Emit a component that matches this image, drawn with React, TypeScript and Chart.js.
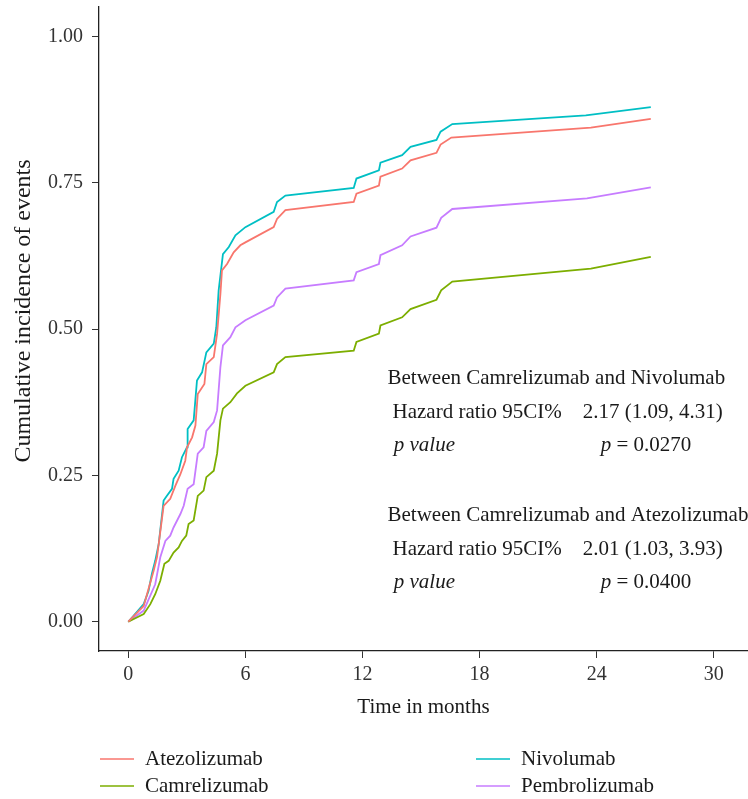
import React, { useEffect, useRef } from 'react';
import { Chart, registerables } from 'chart.js';

Chart.register(...registerables);

// ---- data ----
const seriesNames = ['Atezolizumab', 'Camrelizumab', 'Nivolumab', 'Pembrolizumab'];
const seriesColors = ['#F8766D', '#7CAE00', '#00BFC4', '#C77CFF'];

const atezolizumabTime = [0, 0.79, 1.3, 1.47, 1.81, 2.15, 2.41, 2.67, 2.92, 3.01, 3.27, 3.44, 3.56, 3.9, 4.0, 4.38, 4.55, 4.72, 4.8, 5.06, 5.4, 5.74, 6.0, 7.45, 7.62, 8.05, 11.55, 11.69, 12.84, 12.92, 14.03, 14.46, 15.79, 16.0, 16.55, 23.7, 26.77];
const atezolizumabValue = [0, 0.027, 0.087, 0.11, 0.198, 0.21, 0.232, 0.252, 0.275, 0.298, 0.315, 0.335, 0.389, 0.406, 0.44, 0.452, 0.492, 0.56, 0.6, 0.611, 0.631, 0.643, 0.648, 0.674, 0.688, 0.703, 0.717, 0.731, 0.745, 0.76, 0.774, 0.788, 0.801, 0.815, 0.827, 0.844, 0.859];

const camrelizumabTime = [0, 0.79, 1.13, 1.38, 1.64, 1.85, 2.07, 2.32, 2.58, 2.75, 2.97, 3.09, 3.35, 3.56, 3.86, 4.0, 4.38, 4.55, 4.72, 4.85, 5.23, 5.57, 6.0, 7.45, 7.62, 8.05, 11.55, 11.69, 12.84, 12.92, 14.03, 14.46, 15.79, 16.03, 16.6, 23.7, 26.77];
const camrelizumabValue = [0, 0.013, 0.03, 0.047, 0.07, 0.099, 0.104, 0.118, 0.127, 0.138, 0.147, 0.167, 0.173, 0.215, 0.224, 0.247, 0.258, 0.287, 0.344, 0.364, 0.375, 0.39, 0.403, 0.426, 0.44, 0.452, 0.463, 0.478, 0.492, 0.506, 0.52, 0.534, 0.55, 0.566, 0.581, 0.603, 0.623];

const nivolumabTime = [0, 0.79, 1.04, 1.21, 1.38, 1.56, 1.81, 1.98, 2.24, 2.32, 2.58, 2.75, 3.01, 3.04, 3.35, 3.52, 3.78, 4.0, 4.38, 4.51, 4.63, 4.85, 5.15, 5.49, 6.0, 7.45, 7.62, 8.05, 11.55, 11.69, 12.84, 12.92, 14.03, 14.46, 15.79, 16.0, 16.6, 23.44, 26.77];
const nivolumabValue = [0, 0.03, 0.053, 0.082, 0.104, 0.133, 0.207, 0.215, 0.227, 0.244, 0.258, 0.281, 0.298, 0.329, 0.344, 0.412, 0.426, 0.46, 0.475, 0.503, 0.566, 0.628, 0.64, 0.66, 0.674, 0.7, 0.717, 0.728, 0.741, 0.757, 0.771, 0.784, 0.797, 0.811, 0.823, 0.837, 0.85, 0.865, 0.879];

const pembrolizumabTime = [0, 0.79, 1.38, 1.64, 1.9, 2.15, 2.32, 2.67, 2.84, 3.04, 3.35, 3.56, 3.86, 4.0, 4.38, 4.55, 4.72, 4.85, 5.23, 5.49, 6.0, 7.45, 7.62, 8.05, 11.55, 11.69, 12.84, 12.92, 14.03, 14.46, 15.79, 16.03, 16.6, 23.5, 26.77];
const pembrolizumabValue = [0, 0.019, 0.064, 0.11, 0.138, 0.147, 0.161, 0.184, 0.198, 0.227, 0.235, 0.287, 0.298, 0.326, 0.341, 0.361, 0.435, 0.472, 0.486, 0.503, 0.515, 0.54, 0.554, 0.569, 0.583, 0.597, 0.611, 0.626, 0.643, 0.658, 0.673, 0.69, 0.705, 0.723, 0.742];

const xTicks = [0, 6, 12, 18, 24, 30];
const yTicks = [0, 0.25, 0.5, 0.75, 1];
const yTickLabels = ['0.00', '0.25', '0.50', '0.75', '1.00'];

const xTitle = 'Time in months';
const yTitle = 'Cumulative incidence of events';

const comparisonTitles = ['Between Camrelizumab and Nivolumab', 'Between Camrelizumab and Atezolizumab'];
const hazardRatios = ['2.17 (1.09, 4.31)', '2.01 (1.03, 3.93)'];
const pValues = ['0.0270', '0.0400'];

const FONT = "'Liberation Serif', 'DejaVu Serif', serif";

const toPoints = (t: number[], v: number[]) => t.map((x, i) => ({ x, y: v[i] }));

const overlayPlugin = {
  id: 'overlay',
  afterDraw(chart: any) {
    const ctx = chart.ctx as CanvasRenderingContext2D;
    const xs = chart.scales.x;
    const ys = chart.scales.y;
    const area = chart.chartArea;
    ctx.save();
    ctx.fillStyle = '#1a1a1a';
    ctx.textBaseline = 'middle';
    ctx.textAlign = 'left';
    const normal = `21px ${FONT}`;
    const italic = `italic 21px ${FONT}`;
    const blockY = [0.415, 0.181];
    const step = 0.057;
    for (let b = 0; b < 2; b++) {
      const y0 = ys.getPixelForValue(blockY[b]);
      const y1 = ys.getPixelForValue(blockY[b] - step);
      const y2 = ys.getPixelForValue(blockY[b] - 2 * step);
      ctx.font = normal;
      ctx.fillText(comparisonTitles[b], xs.getPixelForValue(13.28), y0);
      ctx.fillText('Hazard ratio 95CI%', xs.getPixelForValue(13.54), y1);
      ctx.fillText(hazardRatios[b], xs.getPixelForValue(23.28), y1);
      ctx.font = italic;
      ctx.fillText('p value', xs.getPixelForValue(13.6), y2);
      const px = xs.getPixelForValue(24.2);
      ctx.fillText('p', px, y2);
      const pw = ctx.measureText('p').width;
      ctx.font = normal;
      ctx.fillText(' = ' + pValues[b], px + pw, y2);
    }

    // y axis title (rotated)
    ctx.save();
    ctx.font = `24px ${FONT}`;
    ctx.textAlign = 'center';
    ctx.translate(24, (area.top + area.bottom) / 2 - 18);
    ctx.rotate(-Math.PI / 2);
    ctx.fillText(yTitle, 0, 0);
    ctx.restore();

    // legend (two columns)
    const cols = [100, 476];
    const rows = [759, 786];
    const order = [[0, 1], [2, 3]];
    ctx.font = normal;
    ctx.lineWidth = 2;
    order.forEach((col, ci) => {
      col.forEach((si, ri) => {
        const x = cols[ci];
        const y = rows[ri];
        ctx.globalAlpha = 0.75;
        ctx.strokeStyle = seriesColors[si];
        ctx.beginPath();
        ctx.moveTo(x, y);
        ctx.lineTo(x + 34, y);
        ctx.stroke();
        ctx.globalAlpha = 1;
        ctx.fillText(seriesNames[si], x + 45, y);
      });
    });
    ctx.restore();
  },
};

export default function App() {
  const canvasRef = useRef<HTMLCanvasElement | null>(null);

  useEffect(() => {
    if (!canvasRef.current) return;
    const series = [
      toPoints(atezolizumabTime, atezolizumabValue),
      toPoints(camrelizumabTime, camrelizumabValue),
      toPoints(nivolumabTime, nivolumabValue),
      toPoints(pembrolizumabTime, pembrolizumabValue),
    ];
    const chart = new Chart(canvasRef.current, {
      type: 'line',
      data: {
        datasets: series.map((data, i) => ({
          label: seriesNames[i],
          data,
          borderColor: seriesColors[i],
          backgroundColor: seriesColors[i],
          borderWidth: 1.8,
          pointRadius: 0,
          tension: 0,
          fill: false,
        })),
      },
      options: {
        responsive: false,
        animation: false,
        layout: { padding: { top: 7, right: 0, left: 0, bottom: 69 } },
        plugins: { legend: { display: false }, tooltip: { enabled: false } },
        scales: {
          x: {
            type: 'linear',
            min: -1.5,
            max: 31.75,
            afterBuildTicks: (s: any) => { s.ticks = xTicks.map((v) => ({ value: v })); },
            afterFit: (s: any) => { s.height = 79; s.paddingLeft = 0; s.paddingRight = 0; },
            ticks: { font: { family: FONT, size: 20 }, color: '#333', padding: 5, autoSkip: false, maxRotation: 0 },
            grid: { drawOnChartArea: false, tickLength: 7, color: '#333', lineWidth: 1 },
            border: { display: true, color: '#222', width: 1.3 },
            title: { display: true, text: xTitle, font: { family: FONT, size: 21 }, color: '#1a1a1a', padding: { top: 0, bottom: 10 } },
          },
          y: {
            type: 'linear',
            min: -0.05,
            max: 1.05,
            afterBuildTicks: (s: any) => { s.ticks = yTicks.map((v) => ({ value: v })); },
            afterFit: (s: any) => { s.width = 99; s.paddingTop = 0; s.paddingBottom = 0; },
            ticks: {
              font: { family: FONT, size: 20 },
              color: '#333',
              padding: 9,
              autoSkip: false,
              callback: (v: any) => {
                const i = yTicks.indexOf(Number(v));
                return i >= 0 ? yTickLabels[i] : '';
              },
            },
            grid: { drawOnChartArea: false, tickLength: 7, color: '#333', lineWidth: 1 },
            border: { display: true, color: '#222', width: 1.3 },
            title: { display: false },
          },
        },
      },
      plugins: [overlayPlugin],
    } as any);
    return () => chart.destroy();
  }, []);

  return (
    <div style={{ position: 'absolute', left: 0, top: 0, width: 748, height: 799, background: '#fff' }}>
      <canvas ref={canvasRef} width={748} height={799} style={{ display: 'block' }} />
    </div>
  );
}
